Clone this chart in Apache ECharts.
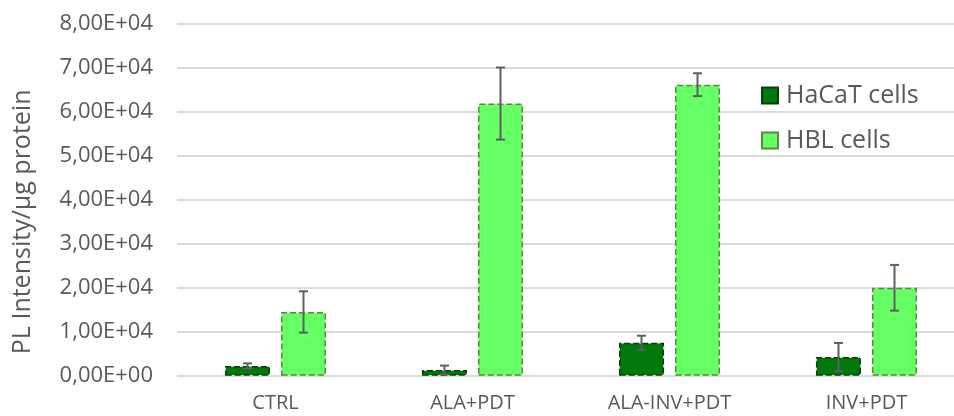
<!DOCTYPE html>
<html>
<head>
<meta charset="utf-8">
<script src="https://cdn.jsdelivr.net/npm/echarts@6/dist/echarts.min.js"></script>
<style>
  html, body { margin: 0; padding: 0; background: #fff; }
  #chart { width: 954px; height: 416px; }
</style>
</head>
<body>
<div id="chart"></div>
<script>
// Treatment groups
const categories = ['CTRL', 'ALA+PDT', 'ALA-INV+PDT', 'INV+PDT'];

// Mean PL intensity per µg protein
const hacatValues = [2200, 1300, 7500, 4250];
const hblValues = [14500, 61900, 66200, 20000];

// Standard deviations (± error)
const hacatErrors = [600, 1000, 1600, 3200];
const hblErrors = [4700, 8200, 2600, 5200];

// Y-axis tick labels, one per 1,00E+04 step
const yTickLabels = ['0,00E+00', '1,00E+04', '2,00E+04', '3,00E+04', '4,00E+04',
                     '5,00E+04', '6,00E+04', '7,00E+04', '8,00E+04'];

const seriesNames = ['HaCaT cells', 'HBL cells'];

const BAR_W = 45;
const BAR_GAP = 11;
const TEXT = '#595959';
const FONT = 'Open Sans';

function errorSeries(values, errors, side) {
  const data = values.map((v, i) => [i, v - errors[i], v + errors[i]]);
  return {
    type: 'custom',
    z: 10,
    silent: true,
    data: data,
    renderItem: function (params, api) {
      const i = api.value(0);
      const lo = api.coord([i, api.value(1)]);
      const hi = api.coord([i, api.value(2)]);
      const x = lo[0] + side * (BAR_W + BAR_GAP) / 2;
      const cap = 4.5;
      const style = { stroke: '#5f5f5f', lineWidth: 2 };
      return {
        type: 'group',
        children: [
          { type: 'line', shape: { x1: x, y1: hi[1], x2: x, y2: lo[1] }, style: style },
          { type: 'line', shape: { x1: x - cap, y1: hi[1], x2: x + cap, y2: hi[1] }, style: style },
          { type: 'line', shape: { x1: x - cap, y1: lo[1], x2: x + cap, y2: lo[1] }, style: style }
        ]
      };
    }
  };
}

const chart = echarts.init(document.getElementById('chart'));
chart.setOption({
  animation: false,
  backgroundColor: '#ffffff',
  textStyle: { fontFamily: FONT },
  grid: {
    left: 177, top: 24, width: 788, height: 351.7,
    containLabel: false,
    outerBoundsMode: 'none'
  },
  legend: {
    orient: 'vertical',
    left: 761,
    top: 83,
    padding: 0,
    icon: 'rect',
    itemWidth: 16,
    itemHeight: 16,
    itemGap: 20,
    data: seriesNames,
    textStyle: { color: TEXT, fontSize: 25, fontFamily: FONT, padding: [0, 0, 0, 3] }
  },
  xAxis: {
    type: 'category',
    data: categories,
    axisLine: { show: false },
    axisTick: { show: false },
    axisLabel: { color: TEXT, fontSize: 20, margin: 18, fontFamily: FONT }
  },
  yAxis: {
    type: 'value',
    min: 0,
    max: 80000,
    interval: 10000,
    name: 'PL Intensity/µg protein',
    nameLocation: 'middle',
    nameGap: 142,
    nameTextStyle: { color: TEXT, fontSize: 25, fontFamily: FONT, padding: [0, 44, 0, 0] },
    axisLine: { show: false },
    axisTick: { show: false },
    splitLine: { lineStyle: { color: '#dadada', width: 2 } },
    axisLabel: {
      color: TEXT,
      fontSize: 22,
      margin: 24,
      fontFamily: FONT,
      formatter: function (v) { return yTickLabels[Math.round(v / 10000)]; }
    }
  },
  series: [
    {
      name: seriesNames[0],
      type: 'bar',
      data: hacatValues,
      barWidth: BAR_W,
      barGap: (BAR_GAP / BAR_W * 100) + '%',
      itemStyle: { color: '#00780a', borderColor: '#0b3d0b', borderWidth: 1.5, borderType: 'dashed' }
    },
    {
      name: seriesNames[1],
      type: 'bar',
      data: hblValues,
      barWidth: BAR_W,
      itemStyle: { color: '#66ff66', borderColor: '#5a8a3a', borderWidth: 1.5, borderType: 'dashed' }
    },
    errorSeries(hacatValues, hacatErrors, -1),
    errorSeries(hblValues, hblErrors, 1)
  ]
});
</script>
</body>
</html>
